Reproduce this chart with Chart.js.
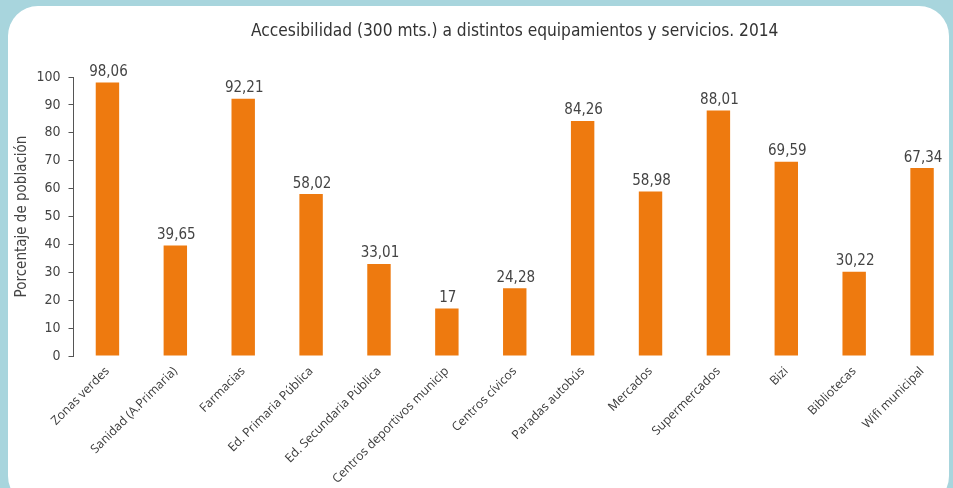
<!DOCTYPE html>
<html lang="es">
<head>
    <meta charset="UTF-8">
    <title>Accesibilidad a equipamientos</title>
    <script src="https://cdn.jsdelivr.net/npm/chart.js"></script>
    <style>
        html, body {
            margin: 0;
            padding: 0;
            width: 953px;
            height: 488px;
            overflow: hidden;
            background: #a8d5dd;
        }

        .panel {
            position: absolute;
            left: 8px;
            top: 6px;
            width: 941px;
            height: 500px;
            background: #fff;
            border-radius: 30px;
        }

        .chart-box {
            position: absolute;
            left: 0;
            top: 0;
            width: 956px;
            height: 488px;
        }
    </style>
</head>
<body>
    <div class="panel"></div>
    <div class="chart-box">
        <canvas id="accChart"></canvas>
    </div>

    <script>
        const titulo = 'Accesibilidad (300 mts.) a distintos equipamientos y servicios. 2014';
        const categorias = ['Zonas verdes', 'Sanidad (A.Primaria)', 'Farmacias', 'Ed. Primaria Pública',
            'Ed. Secundaria Pública', 'Centros deportivos municip', 'Centros cívicos', 'Paradas autobús',
            'Mercados', 'Supermercados', 'Bizi', 'Bibliotecas', 'Wifi municipal'];
        const valores = [98.06, 39.65, 92.21, 58.02, 33.01, 17, 24.28, 84.26, 58.98, 88.01, 69.59, 30.22, 67.34];
        const ejeY = { min: 0, max: 100, paso: 10 };

        const fmt = v => String(v).replace('.', ',');
        const textColor = '#444';
        const narrow = '"DejaVu Sans Condensed", "DejaVu Sans", sans-serif';

        // value labels above bars + title centred over the plot area
        const labelsPlugin = {
            id: 'labelsPlugin',
            afterDatasetsDraw(chart) {
                const ctx = chart.ctx;
                const meta = chart.getDatasetMeta(0);
                ctx.save();
                ctx.fillStyle = textColor;
                ctx.font = '15px ' + narrow;
                ctx.textAlign = 'center';
                ctx.textBaseline = 'bottom';
                meta.data.forEach((bar, i) => {
                    ctx.fillText(fmt(valores[i]), bar.x + 1, bar.y - 3);
                });
                const area = chart.chartArea;
                ctx.font = '17.2px ' + narrow;
                ctx.fillStyle = '#333';
                ctx.textBaseline = 'alphabetic';
                ctx.fillText(titulo, (area.left + area.right) / 2, 36);
                ctx.restore();
            }
        };

        new Chart(document.getElementById('accChart'), {
            type: 'bar',
            data: {
                labels: categorias,
                datasets: [{
                    data: valores,
                    backgroundColor: '#ee7a0f',
                    barPercentage: 0.345,
                    categoryPercentage: 1
                }]
            },
            options: {
                responsive: true,
                maintainAspectRatio: false,
                animation: false,
                layout: { padding: { top: 77, right: 0, bottom: 0, left: 0 } },
                plugins: {
                    legend: { display: false },
                    tooltip: { enabled: false },
                    title: { display: false }
                },
                scales: {
                    x: {
                        grid: { display: false },
                        border: { display: false },
                        ticks: {
                            color: '#3a3a3a',
                            font: { family: '"Open Sans", sans-serif', size: 12.3 },
                            minRotation: 45,
                            maxRotation: 45,
                            autoSkip: false,
                            padding: 0
                        },
                        afterFit(scale) { scale.height = 132; }
                    },
                    y: {
                        min: ejeY.min,
                        max: ejeY.max,
                        grid: {
                            drawOnChartArea: false,
                            drawTicks: true,
                            tickLength: 5,
                            color: '#555'
                        },
                        border: { display: true, color: '#555' },
                        ticks: {
                            stepSize: ejeY.paso,
                            color: textColor,
                            padding: 8,
                            font: { family: narrow, size: 14 }
                        },
                        title: {
                            display: true,
                            text: 'Porcentaje de población',
                            color: textColor,
                            padding: { top: 13, bottom: 0 },
                            font: { family: narrow, size: 15 }
                        },
                        afterFit(scale) { scale.width = 73.5; }
                    }
                }
            },
            plugins: [labelsPlugin]
        });
    </script>
</body>
</html>
